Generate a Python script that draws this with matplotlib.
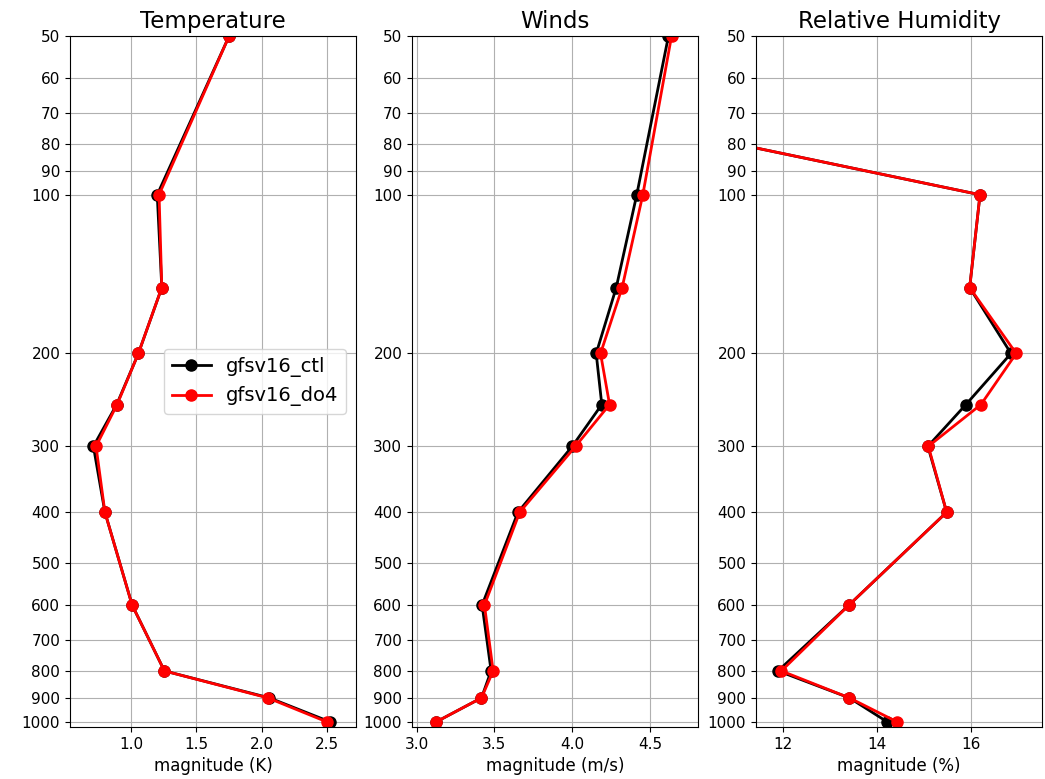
import numpy as np
import matplotlib
matplotlib.use('Agg')
import matplotlib.pyplot as plt
from matplotlib.ticker import FixedLocator, FixedFormatter, NullLocator

# pressure levels (hPa)
levels = [50, 100, 150, 200, 250, 300, 400, 600, 800, 900, 1000]

# Temperature (K)
t_ctl = [1.75, 1.20, 1.235, 1.056, 0.89, 0.712, 0.80, 1.008, 1.255, 2.058, 2.525]
t_do4 = [1.75, 1.214, 1.235, 1.056, 0.893, 0.732, 0.80, 1.008, 1.255, 2.046, 2.50]

# Winds (m/s)
w_ctl = [4.62, 4.416, 4.284, 4.155, 4.191, 4.001, 3.652, 3.421, 3.479, 3.417, 3.124]
w_do4 = [4.64, 4.455, 4.322, 4.183, 4.241, 4.022, 3.663, 3.436, 3.492, 3.417, 3.124]

# Relative humidity (%)
rh_ctl = [0.0, 16.19, 15.97, 16.85, 15.89, 15.08, 15.48, 13.40, 11.89, 13.41, 14.22]
rh_do4 = [0.0, 16.19, 15.97, 16.96, 16.21, 15.09, 15.48, 13.40, 11.96, 13.41, 14.43]

titles = ['Temperature', 'Winds', 'Relative Humidity']
xlabels = ['magnitude (K)', 'magnitude (m/s)', 'magnitude (%)']
xlims = [(0.533, 2.72), (2.97, 4.81), (11.42, 17.51)]
yticks = [50, 60, 70, 80, 90, 100, 200, 300, 400, 500, 600, 700, 800, 900, 1000]

fig = plt.figure(figsize=(10.45, 7.79), dpi=100)
lefts = [70, 412, 756]
w = 286
bottom = (779 - 727) / 779.0
height = (727 - 36) / 779.0

data = [(t_ctl, t_do4), (w_ctl, w_do4), (rh_ctl, rh_do4)]
for i in range(3):
    ax = fig.add_axes([lefts[i] / 1045.0, bottom, w / 1045.0, height])
    ctl, do4 = data[i]
    ax.plot(ctl, levels, 'k-o', lw=2, ms=8, label='gfsv16_ctl')
    ax.plot(do4, levels, 'r-o', lw=2, ms=8, label='gfsv16_do4')
    ax.set_yscale('log')
    ax.set_ylim(1022, 50)
    ax.yaxis.set_major_locator(FixedLocator(yticks))
    ax.yaxis.set_major_formatter(FixedFormatter([str(v) for v in yticks]))
    ax.yaxis.set_minor_locator(NullLocator())
    ax.set_xlim(*xlims[i])
    ax.grid(True, color='#b0b0b0', lw=0.8)
    ax.tick_params(labelsize=11)
    ax.set_title(titles[i], fontsize=16.5)
    ax.set_xlabel(xlabels[i], fontsize=12)
    if i == 0:
        ax.legend(loc='center right', fontsize=14)

fig.savefig('out.png', dpi=100)
